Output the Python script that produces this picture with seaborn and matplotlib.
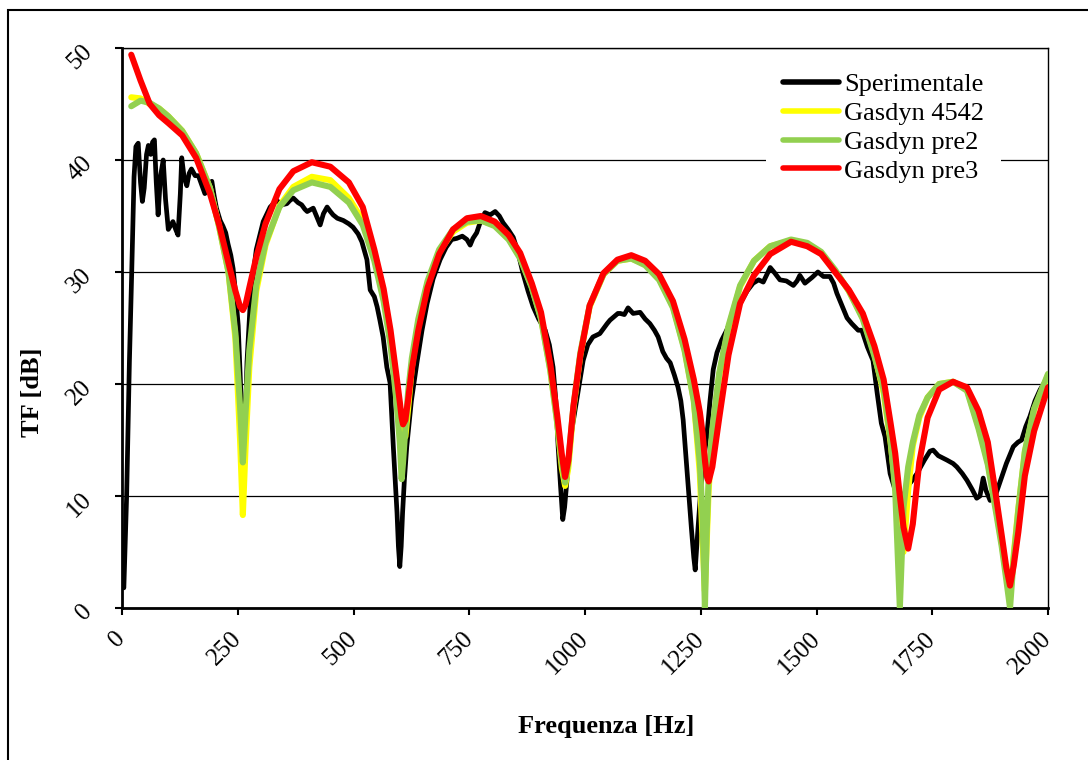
import matplotlib
matplotlib.use("Agg")
import matplotlib.pyplot as plt
import seaborn as sns
import pandas as pd
from matplotlib.patches import Rectangle

# ---------------- data ----------------
series_names = ["Sperimentale", "Gasdyn 4542", "Gasdyn pre2", "Gasdyn pre3"]
series_colors = ["#000000", "#FFFF00", "#92D050", "#FF0000"]

x_ticks = [0, 250, 500, 750, 1000, 1250, 1500, 1750, 2000]
y_ticks = [0, 10, 20, 30, 40, 50]

freq_exp = [4, 10, 16, 21, 26, 30, 35, 40, 44, 48, 53, 57, 62, 66, 70, 74, 78, 83, 89, 94,
            100, 110, 116, 121, 126, 129, 134, 140, 145, 150, 158, 165, 172, 179, 186, 194, 199, 204, 212, 218,
            224, 229, 235, 240, 246, 251, 256, 260, 263, 266, 270, 278, 290, 305, 320, 334, 345, 356, 363, 370,
            380, 388, 395, 400, 413, 420, 428, 435, 443, 450, 456, 465, 478, 490, 499, 510, 518, 529, 536, 545,
            551, 557, 564, 572, 579, 586, 590, 594, 597, 600, 603, 606, 610, 615, 625, 637, 648, 659, 672, 687,
            700, 712, 723, 735, 745, 752, 758, 766, 775, 784, 795, 806, 815, 823, 834, 845, 855, 866, 877, 888,
            900, 914, 923, 931, 937, 942, 947, 952, 956, 961, 970, 983, 996, 1006, 1017, 1032, 1048, 1054, 1071, 1076,
            1085, 1093, 1104, 1119, 1130, 1140, 1150, 1158, 1168, 1176, 1184, 1193, 1201, 1207, 1212, 1218, 1223, 1230, 1235, 1238,
            1243, 1250, 1257, 1263, 1270, 1277, 1285, 1295, 1306, 1320, 1335, 1350, 1363, 1375, 1385, 1393, 1400, 1410, 1421, 1435,
            1450, 1458, 1464, 1475, 1490, 1503, 1515, 1529, 1537, 1544, 1555, 1566, 1576, 1590, 1598, 1610, 1622, 1631, 1640, 1648,
            1659, 1670, 1680, 1688, 1695, 1705, 1717, 1733, 1745, 1752, 1763, 1782, 1795, 1803, 1815, 1825, 1836, 1846, 1853, 1860,
            1866, 1875, 1886, 1896, 1910, 1925, 1935, 1943, 1952, 1961, 1972, 1983, 1995, 2000]
tf_exp = [1.8, 10.0, 22.0, 30.0, 38.5, 41.2, 41.5, 38.0, 36.3, 37.5, 40.5, 41.3, 40.5, 41.6, 41.8, 38.0, 35.1, 38.5, 40.0, 36.5,
          33.8, 34.5, 33.8, 33.3, 37.0, 40.2, 38.5, 37.7, 38.8, 39.2, 38.6, 38.6, 37.8, 37.0, 37.6, 38.1, 36.8, 35.7, 34.6, 34.1,
          33.5, 32.5, 31.5, 30.3, 27.8, 25.2, 20.0, 15.5, 14.0, 16.5, 22.0, 28.0, 32.0, 34.5, 35.8, 36.4, 36.0, 36.1, 36.4, 36.6,
          36.2, 36.0, 35.6, 35.4, 35.7, 35.0, 34.2, 35.2, 35.8, 35.4, 35.1, 34.8, 34.6, 34.3, 34.0, 33.4, 32.7, 31.1, 28.4, 27.8,
          26.9, 25.7, 24.2, 21.5, 20.1, 14.4, 11.5, 8.5, 5.5, 3.7, 5.5, 8.5, 11.5, 14.4, 18.5, 21.9, 24.8, 27.2, 29.4, 31.1,
          32.2, 32.9, 33.0, 33.2, 32.9, 32.4, 33.0, 33.5, 34.6, 35.3, 35.1, 35.4, 35.0, 34.4, 33.8, 33.1, 31.8, 29.9, 28.3, 26.9,
          25.8, 24.8, 23.5, 21.5, 18.5, 14.4, 11.0, 7.9, 9.0, 11.4, 15.5, 18.8, 22.1, 23.5, 24.2, 24.5, 25.4, 25.7, 26.3, 26.3,
          26.2, 26.8, 26.3, 26.4, 25.8, 25.4, 24.8, 24.2, 22.9, 22.3, 21.9, 20.8, 19.7, 18.5, 16.8, 13.5, 10.8, 7.0, 4.5, 3.4,
          6.5, 10.5, 13.5, 15.3, 18.5, 21.3, 22.8, 23.9, 24.8, 26.2, 27.2, 28.3, 29.0, 29.3, 29.1, 29.8, 30.4, 29.9, 29.3, 29.2,
          28.8, 29.2, 29.7, 29.0, 29.5, 30.0, 29.6, 29.6, 29.0, 28.1, 27.0, 25.9, 25.4, 24.8, 24.8, 23.3, 22.1, 19.2, 16.5, 15.3,
          12.0, 10.5, 9.6, 10.0, 10.8, 11.3, 12.0, 13.2, 14.0, 14.1, 13.6, 13.2, 12.9, 12.6, 12.0, 11.4, 10.6, 9.8, 10.0, 11.6,
          10.5, 9.6, 10.0, 11.2, 12.9, 14.4, 14.8, 15.0, 16.2, 17.1, 18.5, 19.5, 20.3, 20.6]

freq_model = [20, 40, 60, 80, 100, 130, 160, 190, 210, 230, 245, 255, 261, 267, 275, 290, 310, 340, 370, 410,
              450, 490, 520, 545, 565, 580, 592, 600, 604, 607, 612, 618, 626, 640, 660, 685, 715, 745, 775, 805,
              835, 860, 885, 905, 925, 940, 950, 957, 964, 975, 990, 1010, 1040, 1070, 1100, 1130, 1160, 1190, 1215, 1235,
              1248, 1254, 1259, 1263, 1267, 1275, 1290, 1310, 1335, 1365, 1400, 1445, 1480, 1510, 1540, 1570, 1600, 1625, 1645, 1660,
              1670, 1680, 1688, 1698, 1708, 1722, 1740, 1765, 1795, 1825, 1850, 1870, 1888, 1900, 1910, 1918, 1926, 1936, 1950, 1970,
              2000]
tf_4542 = [45.6, 45.5, 45.0, 44.6, 43.9, 42.6, 40.6, 37.5, 34.0, 30.0, 24.0, 15.0, 8.3, 14.5, 21.5, 28.3, 32.4, 35.9, 37.6, 38.5,
           38.2, 36.6, 34.6, 31.4, 27.8, 24.0, 19.8, 17.0, 16.0, 15.4, 15.3, 17.8, 21.5, 25.5, 29.0, 31.8, 33.6, 34.4, 34.6, 34.2,
           33.0, 31.3, 28.7, 25.9, 21.3, 16.6, 12.5, 10.9, 12.5, 17.8, 22.6, 26.9, 29.8, 31.0, 31.2, 30.7, 29.4, 26.9, 23.1, 18.6,
           12.0, 6.0, 1.5, 6.0, 10.5, 15.5, 20.8, 25.0, 28.7, 31.0, 32.3, 32.8, 32.5, 31.7, 30.1, 28.3, 25.9, 22.7, 19.2, 14.8,
           11.0, 6.0, 5.0, 10.5, 14.5, 17.0, 18.8, 20.0, 20.2, 19.5, 16.2, 13.0, 8.8, 5.8, 3.0, 1.0, 4.8, 8.9, 13.9, 17.7,
           20.8]
tf_pre2 = [44.8, 45.3, 45.1, 44.6, 43.9, 42.6, 40.6, 37.5, 34.0, 30.0, 24.5, 18.0, 13.0, 17.5, 23.0, 28.8, 32.6, 35.8, 37.3, 38.0,
           37.6, 36.2, 34.2, 31.0, 27.4, 23.5, 18.8, 14.8, 11.5, 13.0, 16.0, 19.3, 22.3, 25.8, 29.2, 32.0, 33.8, 34.5, 34.6, 34.1,
           32.9, 31.2, 28.6, 25.8, 21.2, 16.5, 13.0, 11.2, 13.0, 18.0, 22.8, 27.0, 29.8, 31.0, 31.2, 30.6, 29.3, 26.8, 23.0, 18.5,
           13.0, 8.0, 0.0, 7.0, 11.5, 16.0, 21.0, 25.2, 28.8, 31.0, 32.3, 32.9, 32.6, 31.8, 30.2, 28.3, 25.8, 22.5, 19.5, 15.0,
           10.5, 0.0, 9.0, 12.6, 14.8, 17.2, 18.8, 20.0, 20.2, 19.4, 16.0, 12.8, 8.5, 5.5, 2.5, 0.0, 4.5, 8.8, 14.0, 17.8,
           20.9]
tf_pre3 = [49.4, 47.1, 45.0, 44.0, 43.3, 42.2, 40.2, 37.0, 34.2, 30.8, 28.3, 26.9, 26.6, 27.1, 28.6, 31.3, 34.3, 37.4, 39.0, 39.8,
           39.4, 38.0, 35.8, 32.0, 28.5, 24.8, 21.0, 18.4, 17.0, 16.4, 16.8, 18.6, 21.3, 24.8, 28.6, 31.6, 33.8, 34.8, 35.0, 34.5,
           33.3, 31.7, 29.0, 26.4, 21.8, 17.2, 13.7, 11.7, 13.2, 18.0, 22.6, 27.0, 29.9, 31.1, 31.5, 31.0, 29.8, 27.4, 24.0, 20.4,
           17.5, 15.6, 13.2, 11.8, 11.3, 12.6, 17.0, 22.6, 27.2, 29.7, 31.6, 32.7, 32.3, 31.6, 30.0, 28.4, 26.3, 23.4, 20.4, 16.5,
           13.8, 10.0, 7.2, 5.3, 7.5, 13.0, 17.0, 19.5, 20.2, 19.7, 17.6, 14.8, 9.9, 6.5, 3.6, 2.0, 3.8, 6.8, 11.8, 15.8,
           19.7]

assert len(freq_exp) == len(tf_exp)
assert len(freq_model) == len(tf_4542) == len(tf_pre2) == len(tf_pre3)

# ---------------- style ----------------
sns.set_theme(style="white")
plt.rcParams['font.family'] = ['Liberation Serif', 'DejaVu Serif']
for key in ['text.color', 'axes.labelcolor', 'xtick.color', 'ytick.color', 'axes.edgecolor']:
    plt.rcParams[key] = 'black'

W, H = 1088, 760
fig = plt.figure(figsize=(W / 100, H / 100), dpi=100)
ax = fig.add_axes([122 / W, 1 - 608 / H, 926 / W, 560 / H])

df_exp = pd.DataFrame({"f": freq_exp, "tf": tf_exp})
df_mod = pd.DataFrame({"f": freq_model, series_names[1]: tf_4542,
                       series_names[2]: tf_pre2, series_names[3]: tf_pre3})

sns.lineplot(data=df_exp, x="f", y="tf", color=series_colors[0], lw=3.4,
             label=series_names[0], ax=ax, zorder=3,
             solid_joinstyle="round", solid_capstyle="round")
for name, col in zip(series_names[1:], series_colors[1:]):
    sns.lineplot(data=df_mod, x="f", y=name, color=col, lw=4.4,
                 label=name, ax=ax, zorder=3,
                 solid_joinstyle="round", solid_capstyle="round")

ax.set_xlim(0, 2000)
ax.set_ylim(0, 50)
ax.set_xticks(x_ticks)
ax.set_yticks(y_ticks)
ax.set_xticklabels([str(t) for t in x_ticks])
ax.set_yticklabels([str(t) for t in y_ticks])
ax.set_xlabel("")
ax.set_ylabel("")

ax.yaxis.grid(True, color="black", lw=0.9, zorder=0)
ax.xaxis.grid(False)
ax.set_axisbelow(True)

for s in ["left", "bottom"]:
    ax.spines[s].set_linewidth(2.0)
for s in ["top", "right"]:
    ax.spines[s].set_linewidth(1.0)
for s in ax.spines.values():
    s.set_color("black")

ax.tick_params(axis="both", direction="out", length=5, width=1.5, colors="black",
               labelsize=18, labelcolor="black")
ax.tick_params(axis="x", pad=14.4, bottom=True)
ax.tick_params(axis="y", pad=19, left=True)
for lab in ax.get_xticklabels() + ax.get_yticklabels():
    lab.set_rotation(45)
    lab.set_rotation_mode("anchor")
    lab.set_ha("right")
    lab.set_va("center")
    lab.set_color("black")

leg = ax.legend(loc="upper left", bbox_to_anchor=((766 - 122) / 926, 0.986),
                frameon=True, fancybox=False, edgecolor="none", facecolor="white",
                framealpha=1, fontsize=19, handlelength=2.1, handletextpad=0.2,
                borderpad=0.65, labelspacing=0.2, borderaxespad=0)
for line in leg.get_lines():
    line.set_linewidth(4.0)
    line.set_solid_capstyle("round")
for t in leg.get_texts():
    t.set_color("black")

fig.text(33 / W, 1 - 392 / H, "TF [dB]", rotation=90, fontsize=19, fontweight="bold",
         ha="center", va="center", color="black")
fig.text(606 / W, 1 - 727 / H, "Frequenza [Hz]", fontsize=19, fontweight="bold",
         ha="center", va="center", color="black")

fig.add_artist(Rectangle((8 / W, -0.1), 1.2, 1.1 - 10 / H, transform=fig.transFigure,
                         fill=False, edgecolor="black", lw=1.5))

fig.savefig("out.png", dpi=100, facecolor="white")
